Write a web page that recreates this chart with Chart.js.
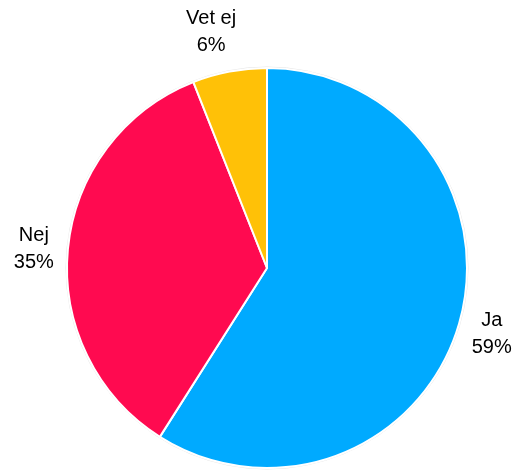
<!DOCTYPE html>
<html>
<head>
<meta charset="utf-8">
<script src="https://cdn.jsdelivr.net/npm/chart.js@4"></script>
<style>
  html, body { margin: 0; padding: 0; background: #fff; }
  #wrap { width: 517px; height: 470px; }
</style>
</head>
<body>
<div id="wrap"><canvas id="chart"></canvas></div>
<script>
const categories = ['Ja', 'Nej', 'Vet ej'];
const shares = [59, 35, 6];
const percentLabels = ['59%', '35%', '6%'];
const colors = ['#00aaff', '#ff0a50', '#ffc107'];

// nudges so the outside labels sit where the original has them
const labelAngleNudge = [0, -0.5, -2.5]; // degrees
const labelRadiusNudge = [0, 0, 9]; // px

const outsideLabels = {
  id: 'outsideLabels',
  beforeDatasetsDraw(chart) {
    const { ctx } = chart;
    const arc = chart.getDatasetMeta(0).data[0];
    ctx.save();
    ctx.beginPath();
    ctx.arc(arc.x, arc.y, arc.outerRadius + 1, 0, Math.PI * 2);
    ctx.strokeStyle = '#e6e6e6';
    ctx.lineWidth = 1;
    ctx.stroke();
    ctx.restore();
  },
  afterDatasetsDraw(chart) {
    const { ctx } = chart;
    const meta = chart.getDatasetMeta(0);
    ctx.save();
    ctx.font = '20px "Liberation Sans", Arial, sans-serif';
    ctx.fillStyle = '#000';
    ctx.textAlign = 'center';
    ctx.textBaseline = 'middle';
    meta.data.forEach((el, i) => {
      const mid = (el.startAngle + el.endAngle) / 2 + labelAngleNudge[i] * Math.PI / 180;
      const r = el.outerRadius + 34 + labelRadiusNudge[i];
      const x = el.x + Math.cos(mid) * r;
      const y = el.y + Math.sin(mid) * r;
      ctx.fillText(categories[i], x, y - 13);
      ctx.fillText(percentLabels[i], x, y + 14);
    });
    ctx.restore();
  },
};

const config = {
  type: 'pie',
  data: {
    labels: categories,
    datasets: [
      {
        data: shares,
        backgroundColor: colors,
        borderColor: '#ffffff',
        borderWidth: 2,
      },
    ],
  },
  options: {
    responsive: true,
    maintainAspectRatio: false,
    animation: false,
    radius: 200,
    layout: {
      padding: { left: 17, right: 0, top: 66, bottom: 0 },
    },
    plugins: {
      legend: { display: false },
      tooltip: { enabled: false },
    },
  },
  plugins: [outsideLabels],
};

new Chart(document.getElementById('chart'), config);
</script>
</body>
</html>
